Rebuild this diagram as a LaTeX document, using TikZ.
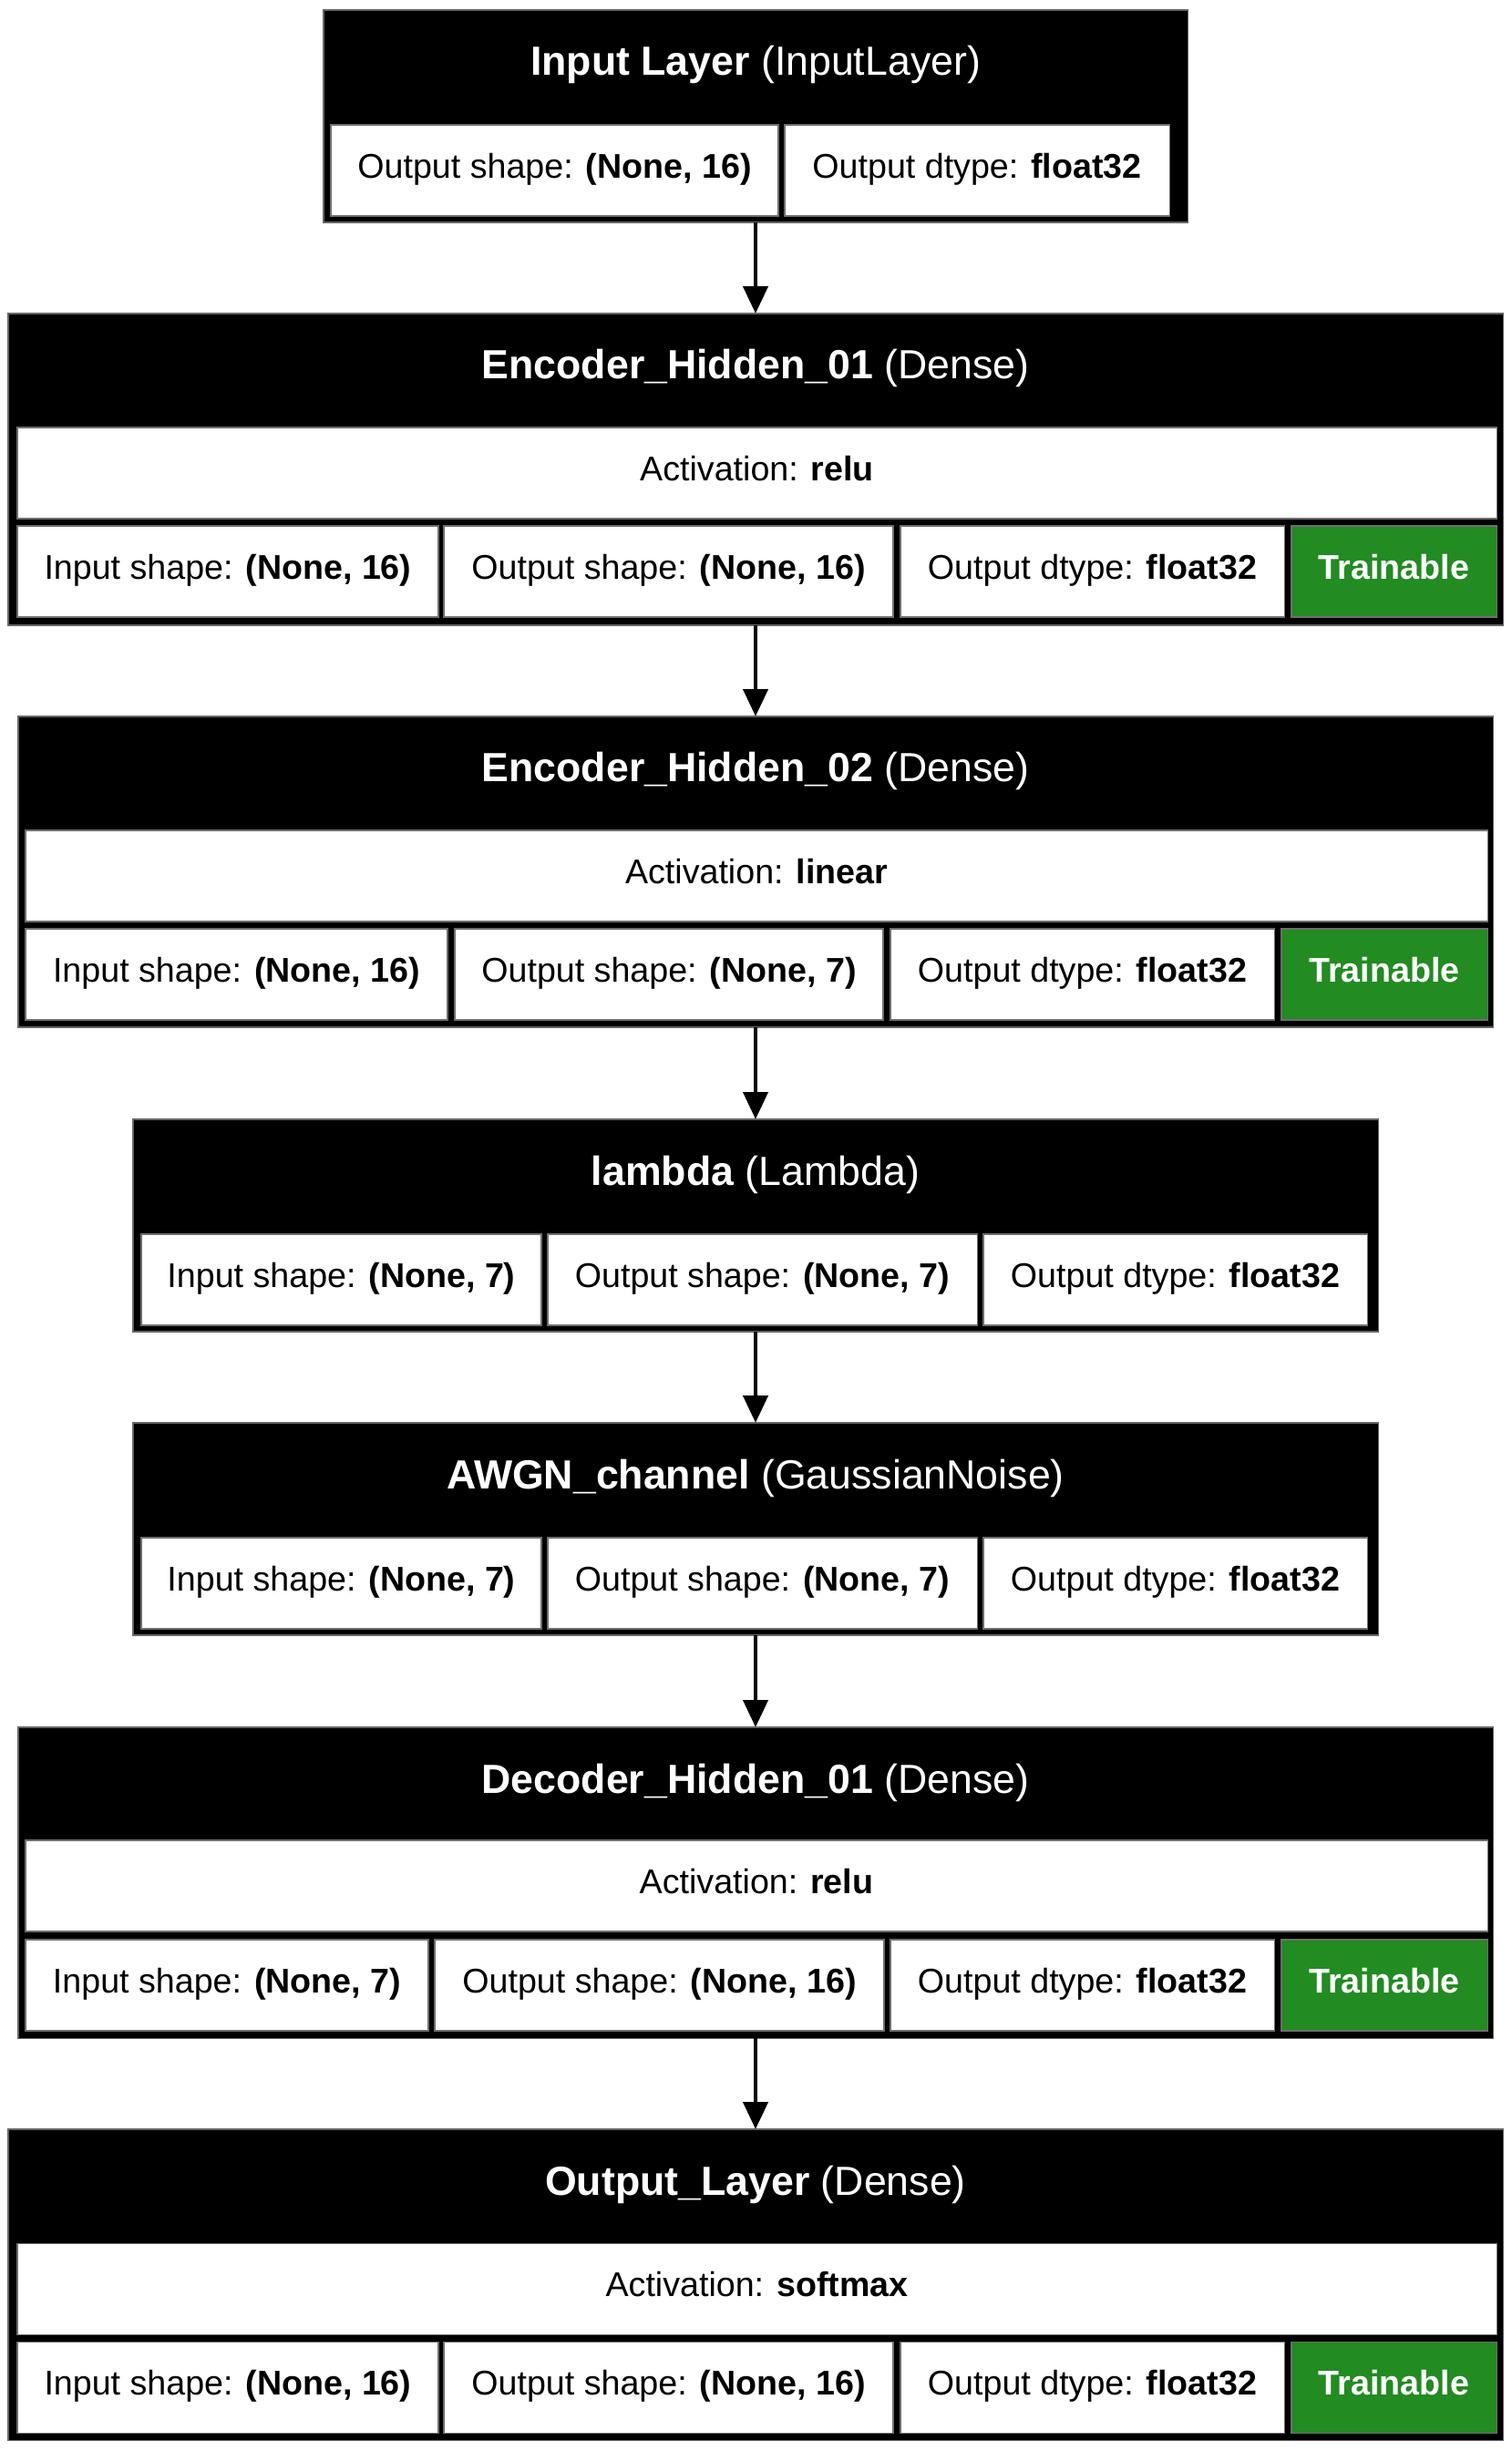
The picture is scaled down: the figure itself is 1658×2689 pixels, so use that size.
\documentclass[tikz,border=0pt]{standalone}
\usepackage{fontspec}
\setmainfont{Liberation Sans}
\usetikzlibrary{arrows.meta}

\definecolor{trainfill}{RGB}{34,139,34}
\definecolor{cellrule}{RGB}{110,110,110}

\newcommand\cellfont{\fontsize{10.7pt}{12pt}\selectfont}
\newcommand\titlefont{\fontsize{12.7pt}{15pt}\selectfont}

% rectangle node from its corners (pixel units): name, x1, y1, x2, y2, style, text
\newcommand\boxat[7]{%
  \pgfmathsetmacro\lyrW{(#4-#2)*0.01}%
  \pgfmathsetmacro\lyrH{(#5-#3)*0.01}%
  \node[#6, minimum width=\lyrW cm, minimum height=\lyrH cm] (#1) at ({(#2+#4)/2},{(#3+#5)/2}) {#7};%
}
% layer title: name, top of layer box
\newcommand\titleat[3]{%
  \node[ltitle] (#1) at (829,{#2+56}) {#3};%
}

\begin{document}
\begin{tikzpicture}[x=0.01cm, y=-0.01cm,
  layer/.style={fill=black, draw=black!60, line width=0.3pt, inner sep=0pt, outer sep=0pt},
  cell/.style={fill=white, draw=cellrule, line width=0.3pt, inner sep=0pt, outer sep=0pt,
               font=\cellfont, text height=7.66pt, text depth=2.6pt},
  train/.style={cell, fill=trainfill, text=white, font=\cellfont\bfseries},
  ltitle/.style={text=white, font=\titlefont, inner sep=0pt, text height=9.1pt, text depth=0pt},
  conn/.style={line width=1.4pt, -{Triangle[length=8.5pt, width=7.6pt]}}]

\fill[white] (0,0) rectangle (1658,2689);
\useasboundingbox (0,0) rectangle (1658,2689);

% Input Layer
\boxat{inL}{355}{11}{1303}{244}{layer}{}
\titleat{inT}{11}{\textbf{Input Layer} (InputLayer)}
\boxat{inOS}{363}{137}{854}{237}{cell}{Output shape: \textbf{(None, 16)}}
\boxat{inDT}{861}{137}{1283}{237}{cell}{Output dtype: \textbf{float32}}

% Encoder_Hidden_01
\boxat{e1L}{9}{344}{1649}{686}{layer}{}
\titleat{e1T}{344}{\textbf{Encoder\_Hidden\_01} (Dense)}
\boxat{e1A}{19}{469}{1642}{569}{cell}{Activation: \textbf{relu}}
\boxat{e1IS}{19}{577}{481}{677}{cell}{Input shape: \textbf{(None, 16)}}
\boxat{e1OS}{487}{577}{980}{677}{cell}{Output shape: \textbf{(None, 16)}}
\boxat{e1DT}{988}{577}{1409}{677}{cell}{Output dtype: \textbf{float32}}
\boxat{e1TR}{1417}{577}{1642}{677}{train}{Trainable}

% Encoder_Hidden_02
\boxat{e2L}{20}{786}{1638}{1127}{layer}{}
\titleat{e2T}{786}{\textbf{Encoder\_Hidden\_02} (Dense)}
\boxat{e2A}{28}{911}{1632}{1011}{cell}{Activation: \textbf{linear}}
\boxat{e2IS}{28}{1019}{491}{1119}{cell}{Input shape: \textbf{(None, 16)}}
\boxat{e2OS}{499}{1019}{969}{1119}{cell}{Output shape: \textbf{(None, 7)}}
\boxat{e2DT}{977}{1019}{1398}{1119}{cell}{Output dtype: \textbf{float32}}
\boxat{e2TR}{1406}{1019}{1632}{1119}{train}{Trainable}

% lambda
\boxat{lmL}{146}{1228}{1512}{1461}{layer}{}
\titleat{lmT}{1228}{\textbf{lambda} (Lambda)}
\boxat{lmIS}{155}{1354}{594}{1454}{cell}{Input shape: \textbf{(None, 7)}}
\boxat{lmOS}{601}{1354}{1072}{1454}{cell}{Output shape: \textbf{(None, 7)}}
\boxat{lmDT}{1079}{1354}{1500}{1454}{cell}{Output dtype: \textbf{float32}}

% AWGN_channel
\boxat{awL}{146}{1561}{1512}{1794}{layer}{}
\titleat{awT}{1561}{\textbf{AWGN\_channel} (GaussianNoise)}
\boxat{awIS}{155}{1687}{594}{1787}{cell}{Input shape: \textbf{(None, 7)}}
\boxat{awOS}{601}{1687}{1072}{1787}{cell}{Output shape: \textbf{(None, 7)}}
\boxat{awDT}{1079}{1687}{1500}{1787}{cell}{Output dtype: \textbf{float32}}

% Decoder_Hidden_01
\boxat{d1L}{20}{1895}{1638}{2236}{layer}{}
\titleat{d1T}{1895}{\textbf{Decoder\_Hidden\_01} (Dense)}
\boxat{d1A}{28}{2019}{1632}{2119}{cell}{Activation: \textbf{relu}}
\boxat{d1IS}{28}{2128}{470}{2228}{cell}{Input shape: \textbf{(None, 7)}}
\boxat{d1OS}{477}{2128}{970}{2228}{cell}{Output shape: \textbf{(None, 16)}}
\boxat{d1DT}{977}{2128}{1398}{2228}{cell}{Output dtype: \textbf{float32}}
\boxat{d1TR}{1406}{2128}{1632}{2228}{train}{Trainable}

% Output_Layer
\boxat{ouL}{9}{2336}{1649}{2677}{layer}{}
\titleat{ouT}{2336}{\textbf{Output\_Layer} (Dense)}
\boxat{ouA}{19}{2461}{1642}{2561}{cell}{Activation: \textbf{softmax}}
\boxat{ouIS}{19}{2569}{481}{2669}{cell}{Input shape: \textbf{(None, 16)}}
\boxat{ouOS}{487}{2569}{980}{2669}{cell}{Output shape: \textbf{(None, 16)}}
\boxat{ouDT}{988}{2569}{1409}{2669}{cell}{Output dtype: \textbf{float32}}
\boxat{ouTR}{1417}{2569}{1642}{2669}{train}{Trainable}

% connectors
\draw[conn] (inL.south) -- (e1L.north);
\draw[conn] (e1L.south) -- (e2L.north);
\draw[conn] (e2L.south) -- (lmL.north);
\draw[conn] (lmL.south) -- (awL.north);
\draw[conn] (awL.south) -- (d1L.north);
\draw[conn] (d1L.south) -- (ouL.north);

\end{tikzpicture}
\end{document}
